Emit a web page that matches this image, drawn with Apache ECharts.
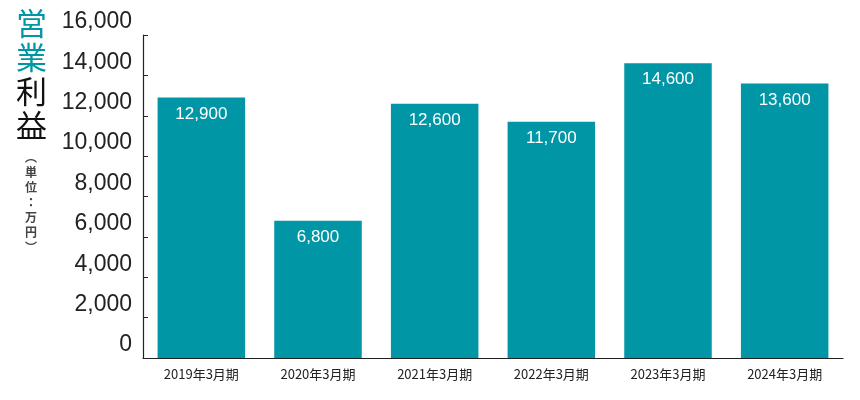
<!DOCTYPE html>
<html><head><meta charset="utf-8">
<script src="https://cdn.jsdelivr.net/npm/echarts@6/dist/echarts.min.js"></script>
<style>html,body{margin:0;padding:0;background:#fff}#c{width:860px;height:400px}</style>
</head><body><div id="c"></div>
<script>
const categories = ['2019年3月期','2020年3月期','2021年3月期','2022年3月期','2023年3月期','2024年3月期'];
const profit = [12900, 6800, 12600, 11700, 14600, 13600];
const yTicks = [0,2000,4000,6000,8000,10000,12000,14000,16000];
const chart = echarts.init(document.getElementById('c'));
const F = '"Noto Sans CJK JP", "Noto Sans", sans-serif';
chart.setOption({
  animation:false,
  grid:{left:143,right:17,top:35,bottom:42},
  xAxis:{type:'category',data:categories,
    axisLine:{lineStyle:{color:'#222',width:1.2}},axisTick:{show:false},
    axisLabel:{color:'#222',fontSize:13,fontFamily:F,margin:10}},
  yAxis:{type:'value',min:yTicks[0],max:yTicks[yTicks.length-1],interval:2000,
    splitLine:{show:false},
    axisLine:{show:true,lineStyle:{color:'#222',width:1.2}},
    axisTick:{show:true,inside:true,length:5,lineStyle:{color:'#222'}},
    axisLabel:{color:'#222',fontSize:23,fontFamily:'"Liberation Sans", Arial',margin:11,verticalAlign:'bottom',lineHeight:26}},
  series:[{type:'bar',data:profit,barCategoryGap:'25%',
    itemStyle:{color:'#0096A6'},
    label:{show:true,position:'insideTop',distance:8,color:'#fff',fontSize:17,fontFamily:'"Liberation Sans", Arial',
      formatter:p=>p.value.toLocaleString('en-US')}}],
  graphic:[
    {type:'text',left:16,top:6,style:{text:'営\n業',fill:'#0096A6',font:'31px '+F,lineHeight:34}},
    {type:'text',left:16,top:74,style:{text:'利\n益',fill:'#111',font:'31px '+F,lineHeight:34}},
    {type:'text',left:25,top:150,style:{text:'︵\n単\n位\n：\n万\n円\n︶',fill:'#444',font:'bold 12px '+F,lineHeight:15}}
  ]
});
</script></body></html>
